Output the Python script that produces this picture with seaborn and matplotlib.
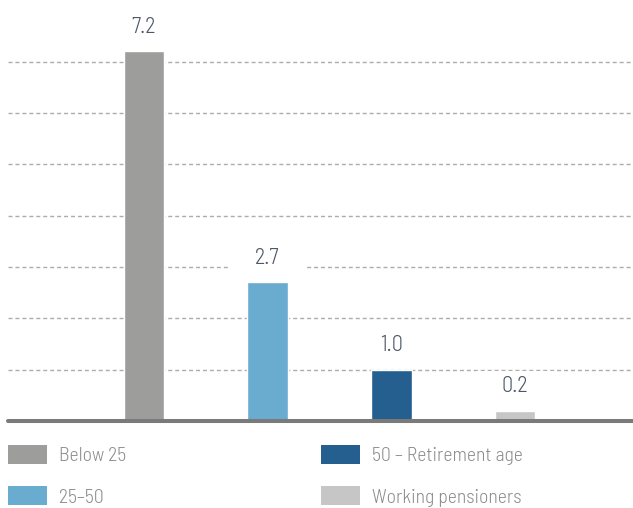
import matplotlib
matplotlib.use("Agg")
import matplotlib.pyplot as plt
from matplotlib import font_manager
from matplotlib.patches import Patch
from matplotlib.path import Path
import seaborn as sns
import pandas as pd

# Age groups and their values
categories = ["Below 25", "25–50", "50 – Retirement age", "Working pensioners"]
values = [7.2, 2.7, 1.0, 0.2]
colors = ["#9d9d9c", "#6aabd0", "#255f8f", "#c6c6c6"]
gridlines = [1, 2, 3, 4, 5, 6, 7]

sns.set_theme(style="white")

# prefer a narrow, light sans face when one is installed
installed = {f.name for f in font_manager.fontManager.ttflist}
preferred = ["Barlow Semi Condensed", "Roboto Condensed", "Liberation Sans Narrow"]
narrow = next((n for n in preferred if n in installed), "DejaVu Sans")
plt.rcParams["font.family"] = [narrow, "DejaVu Sans"]
plt.rcParams["font.weight"] = 300


def wide_box(x0, y0, width, height, mutation_size, pad_x=26, pad_y=5):
    """White label backing that is wider than it is tall (pixels)."""
    x0, y0 = x0 - pad_x, y0 - pad_y
    x1, y1 = x0 + width + 2 * pad_x, y0 + height + 2 * pad_y
    return Path([(x0, y0), (x1, y0), (x1, y1), (x0, y1), (x0, y0)], closed=True)


df = pd.DataFrame({"group": categories, "value": values})

fig = plt.figure(figsize=(6.33, 5.08), dpi=100)
ax = fig.add_axes([8 / 633, 87 / 508, 625 / 633, 421 / 508])

sns.barplot(data=df, x="group", y="value", hue="group", palette=colors,
            width=0.33, legend=False, ax=ax, saturation=1, zorder=6)

ax.set_xlim(-1.099, 3.954)
ax.set_ylim(0, 8.2)

for y in gridlines:
    ax.axhline(y, color="#adadad", lw=1.0, ls=(0, (2.9, 2.1)), zorder=1)
ax.axhline(0, color="#7a7a7a", lw=2.9, zorder=7, clip_on=False)

for i, v in enumerate(values):
    ax.annotate(f"{v:.1f}", xy=(i, v), xytext=(0, 13.5), textcoords="offset points",
                ha="center", va="baseline", fontsize=16, color="#4d5766",
                bbox=dict(boxstyle=wide_box, fc="white", ec="none"),
                zorder=5)

for s in ax.spines.values():
    s.set_visible(False)
ax.set_xticks([])
ax.set_yticks([])
ax.set_xlabel("")
ax.set_ylabel("")

handles = [Patch(facecolor=c, edgecolor="none") for c in colors]
leg = fig.legend(handles, categories, ncol=2, loc="upper left",
                 bbox_to_anchor=(8 / 633, 1 - 445 / 508), frameon=False,
                 fontsize=14.2, labelcolor="#8c8c8c",
                 handlelength=2.0, handleheight=1.1, handletextpad=0.6,
                 columnspacing=9.85, labelspacing=1.08,
                 borderpad=0, borderaxespad=0)

fig.savefig("out.png", dpi=100, facecolor="white")
